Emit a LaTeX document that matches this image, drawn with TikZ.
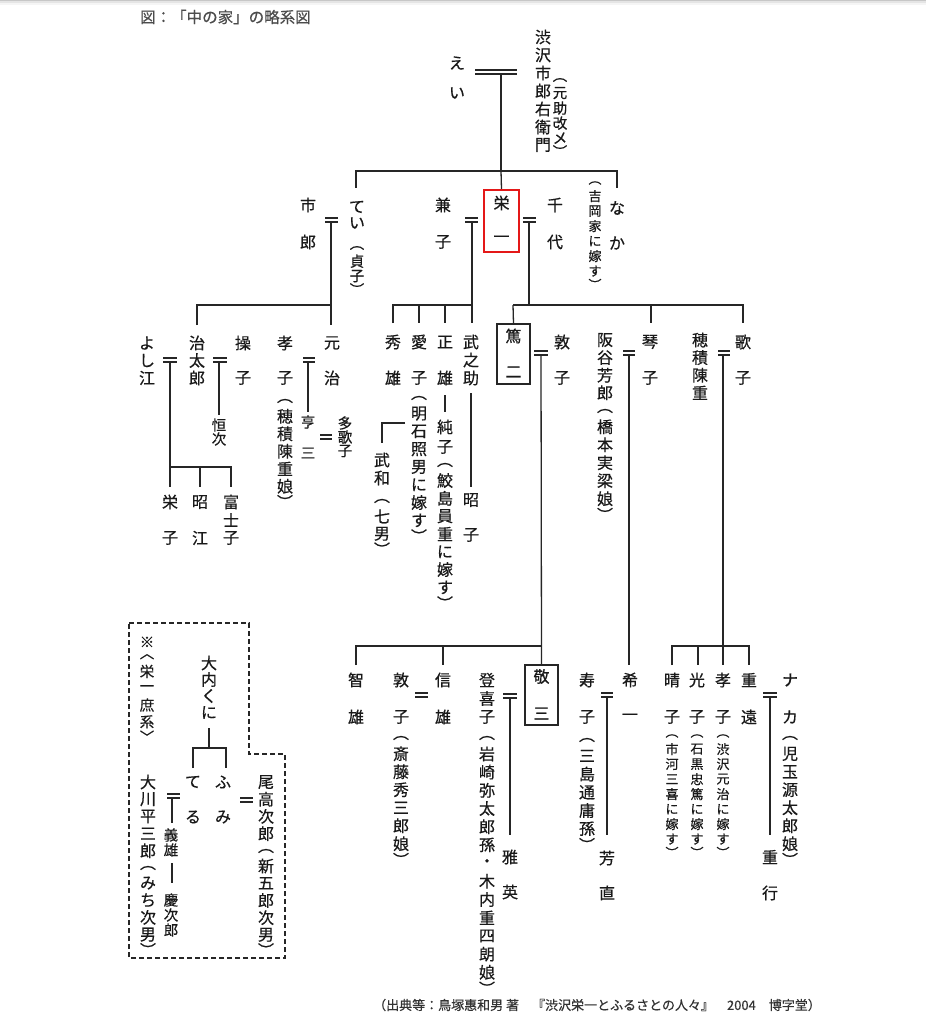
\documentclass[tikz,border=0pt]{standalone}
\usepackage{fontspec}
\setmainfont{Noto Sans CJK JP}[FakeBold=0.5]
\makeatletter
\newdimen\vst@P \newdimen\vst@F \newdimen\vst@d
\newif\ifvst@first
\def\vst@end{\vst@end}
\def\vst@po{︵}\def\vst@pc{︶}\def\vst@ao{︿}\def\vst@ac{﹀}
\def\vst@loop#1{\ifx#1\vst@end\else\vst@slot{#1}\expandafter\vst@loop\fi}
\def\vst@slot#1{\def\vst@c{#1}\vst@d=\vst@P
  \ifx\vst@c\vst@po\vst@d=0.75\vst@P\fi
  \ifx\vst@c\vst@pc\vst@d=0.75\vst@P\fi
  \ifx\vst@c\vst@ao\vst@d=0.75\vst@P\fi
  \ifx\vst@c\vst@ac\vst@d=0.75\vst@P\fi
  \ifvst@first\global\vst@F=0.5\vst@d\global\vst@firstfalse\fi
  \hbox to 0pt{\hss\vbox to\vst@d{\vss\hbox{#1}\vss}\hss}}
\def\vst#1#2{\vst@P=#1pt\global\vst@firsttrue
  \setbox0=\vbox{\offinterlineskip\vst@loop#2\vst@end}%
  \vbox to 0pt{\kern-\vst@F\box0\vss}}
\def\vstc#1#2{\vst@P=#1pt\global\vst@firsttrue
  \setbox0=\vbox{\offinterlineskip\vst@loop#2\vst@end}%
  \vbox to 0pt{\vss\box0\vss}}
\makeatother
\definecolor{boxred}{RGB}{228,24,24}
\newcommand\mar[3]{\draw[ln,line width=1.1pt] (#1,#3-2) -- (#2,#3-2) (#1,#3+2) -- (#2,#3+2);}
\tikzset{
  ln/.style={line width=1.3pt, draw=black!85},
  vt/.style={inner sep=0pt, font=\fontsize{16}{16}\selectfont, text=black!90},
  vtm/.style={inner sep=0pt, font=\fontsize{14.5}{14.5}\selectfont, text=black!90},
  vts/.style={inner sep=0pt, font=\fontsize{13}{13}\selectfont, text=black!90},
  boxed/.style={draw=black!85, line width=1.3pt, inner sep=0pt, font=\fontsize{16}{16}\selectfont, text=black!90},
}
\begin{document}
\begin{tikzpicture}[x=1pt,y=-1pt]
\useasboundingbox (0,0) rectangle (926,1024);
\fill[white] (0,0) rectangle (926,1024);
\fill[black!22] (0,0) rectangle (926,1.5);
\fill[black!10] (0,1.5) rectangle (926,3);
\fill[black!4] (0,3) rectangle (926,5);
\node[anchor=west, inner sep=0pt, font=\fontsize{15.5}{16}\selectfont, text=black!70] (title) at (140,17) {図：「中の家」の略系図};

% ---- generation 1
\node[vt] (ei) at (457,63) {\vst{30}{えい}};
\node[vt] (ichiemon) at (543,37) {\vst{18}{渋沢市郎右衛門}};
\node[vtm] (ichiemonA) at (560,80) {\vst{15}{︵元助改メ︶}};
\mar{475}{517}{72}
\coordinate (m0) at (501,74);
\coordinate (b0) at (501,171);
\draw[ln] (m0) -- (b0);
\draw[ln] (356,188) -- (356,171) -- (617,171) -- (617,188);

% ---- generation 2
\node[vt] (ichiro) at (308,205) {\vst{37}{市郎}};
\node[vt] (tei) at (357,207) {\vst{16}{てい}};
\node[vtm] (teiA) at (357,248) {\vst{15}{︵貞子︶}};
\node[vt] (kaneko) at (443,205) {\vst{37}{兼子}};
\node[boxed, draw=boxred, line width=2pt, minimum width=35pt, minimum height=62pt] (eiichi) at (501.5,221) {\vstc{36}{栄一}};
\draw[ln] (b0) -- (eiichi.north);
\node[vt] (chiyo) at (555,205) {\vst{37}{千代}};
\node[vt] (naka) at (617,208) {\vst{35}{なか}};
\node[vts] (nakaA) at (595,183) {\vst{15}{︵吉岡家に嫁す︶}};

\mar{325}{338}{220}
\mar{465}{478}{220}
\mar{523}{536}{220}
\draw[ln] (331,222) -- (331,325);
\draw[ln] (197,325) -- (197,305) -- (331,305);
\draw[ln] (472,222) -- (472,323);
\draw[ln] (393,323) -- (393,305) -- (472,305);
\draw[ln] (419,305) -- (419,323);
\draw[ln] (445,305) -- (445,323);
\draw[ln] (529,222) -- (529,305);
\draw[ln] (513,305) -- (743,305) -- (743,323);
\draw[ln] (651,305) -- (651,323);

% ---- generation 3 : Ichiro line
\node[vt] (yoshie) at (147,343) {\vst{17.5}{よし江}};
\node[vt] (jitaro) at (197,343) {\vst{17.5}{治太郎}};
\node[vt] (misao) at (243,343) {\vst{35}{操子}};
\node[vt] (takako) at (285,343) {\vst{35}{孝子}};
\node[vt] (takakoA) at (285,401) {\vst{17.5}{︵穂積陳重娘︶}};
\node[vt] (motoji) at (332,343) {\vst{35}{元治}};
\node[vtm] (tsuneji) at (219,425) {\vst{14}{恒次}};
\node[vtm] (kozo) at (308,422) {\vst{31}{亨三}};
\node[vtm] (takako2) at (345,423) {\vst{14}{多歌子}};
\mar{163}{177}{360}
\mar{213}{227}{360}
\mar{303}{315}{360}
\mar{320}{332}{437}
\draw[ln] (170,362) -- (170,487);
\draw[ln] (170,467) -- (231,467) -- (231,487);
\draw[ln] (200,467) -- (200,487);
\draw[ln] (219,362) -- (219,415);
\draw[ln] (308,362) -- (308,412);
\node[vt] (eiko) at (170,502) {\vst{36}{栄子}};
\node[vt] (akie) at (200,502) {\vst{36}{昭江}};
\node[vt] (fujiko) at (231,502) {\vst{18}{富士子}};

% ---- generation 3 : Kaneko line
\node[vt] (hideo) at (393,342) {\vst{36}{秀雄}};
\node[vt] (aiko) at (419,342) {\vst{36}{愛子}};
\node[vt] (aikoA) at (419,398) {\vst{17.8}{︵明石照男に嫁す︶}};
\node[vt] (masao) at (445,342) {\vst{36}{正雄}};
\draw[ln] (445,395) -- (445,412);
\node[vt] (junko) at (445,427) {\vst{20}{純子}};
\node[vt] (junkoA) at (445,465) {\vst{17.8}{︵鮫島員重に嫁す︶}};
\node[vt] (takenosuke) at (471,342) {\vst{18}{武之助}};
\draw[ln] (471,393) -- (471,487);
\node[vt] (akiko) at (471,500) {\vst{35}{昭子}};
\draw[ln] (405,423) -- (382,423) -- (382,443);
\node[vt] (takekazu) at (382,460) {\vst{18}{武和}};
\node[vt] (takekazuA) at (382,501) {\vst{17.5}{︵七男︶}};

% ---- generation 3 : Eiichi line
\node[boxed, minimum width=33pt, minimum height=60pt] (tokuji) at (513.5,354) {\vstc{36}{篤二}};
\draw[ln] (513,305) -- (tokuji.north);
\node[vt] (atsuko) at (562,342) {\vst{36}{敦子}};
\node[vt] (sakatani) at (605,340) {\vst{17.6}{阪谷芳郎}};
\node[vt] (sakataniA) at (605,411) {\vst{18}{︵橋本実梁娘︶}};
\node[vt] (kotoko) at (650,342) {\vst{36}{琴子}};
\node[vt] (hozumi) at (700,340) {\vst{17.6}{穂積陳重}};
\node[vt] (utako) at (743,342) {\vst{36}{歌子}};
\mar{534}{548}{353}
\mar{623}{635}{353}
\mar{718}{730}{353}

% ---- generation 4
\node[boxed, minimum width=33pt, minimum height=60pt] (keizo) at (541.5,695) {\vstc{37}{敬三}};
\draw[ln] (541,355) -- (keizo.north);
\draw[ln] (356,665) -- (356,646) -- (541,646);
\draw[ln] (443,646) -- (443,665);
\node[vt] (tomoo) at (356,680) {\vst{37}{智雄}};
\node[vt] (atsuko2) at (401,680) {\vst{37}{敦子}};
\node[vt] (atsuko2A) at (401,738) {\vst{18}{︵斎藤秀三郎娘︶}};
\node[vt] (nobuo) at (443,680) {\vst{37}{信雄}};
\mar{415}{428}{695}
\node[vt] (tokiko) at (487,680) {\vst{18.5}{登喜子}};
\node[vt] (tokikoA) at (487,738) {\vst{18.2}{︵岩崎弥太郎孫・木内重四朗娘︶}};
\mar{503}{517}{696}
\draw[ln] (510,698) -- (510,835);
\node[vt] (masahide) at (510,857) {\vst{35}{雅英}};

\draw[ln] (629,355) -- (629,665);
\node[vt] (juko) at (587,680) {\vst{37}{寿子}};
\node[vt] (jukoA) at (587,740) {\vst{18.2}{︵三島通庸孫︶}};
\mar{601}{613}{695}
\draw[ln] (607,697) -- (607,835);
\node[vt] (yoshinao) at (607,858) {\vst{35}{芳直}};
\node[vt] (kiichi) at (630,680) {\vst{37}{希一}};

\draw[ln] (723,355) -- (723,665);
\draw[ln] (672,665) -- (672,646) -- (749,646) -- (749,665);
\draw[ln] (698,646) -- (698,665);
\node[vt] (haruko) at (672,680) {\vst{37}{晴子}};
\node[vts] (harukoA) at (672,736) {\vst{15}{︵市河三喜に嫁す︶}};
\node[vt] (mitsuko) at (697,680) {\vst{37}{光子}};
\node[vts] (mitsukoA) at (697,736) {\vst{15}{︵石黒忠篤に嫁す︶}};
\node[vt] (takako3) at (723,680) {\vst{37}{孝子}};
\node[vts] (takako3A) at (723,736) {\vst{15}{︵渋沢元治に嫁す︶}};
\node[vt] (shigeto) at (749,680) {\vst{37}{重遠}};
\mar{763}{777}{695}
\draw[ln] (770,697) -- (770,835);
\node[vt] (shigeyuki) at (770,857) {\vst{36}{重行}};
\node[vt] (naka2) at (790,680) {\vst{37}{ナカ}};
\node[vt] (naka2A) at (790,738) {\vst{18}{︵児玉源太郎娘︶}};

% ---- illegitimate line (dashed box)
\draw[line width=1.2pt, draw=black!85, dash pattern=on 5pt off 3pt] (129,623) -- (249,623) -- (249,754) -- (285,754) -- (285,958) -- (129,958) -- cycle;
\node[vtm] (note) at (147,642) {\vst{16.8}{※︿栄一庶系﹀}};
\node[vt] (ouchi) at (209,663) {\vst{16.5}{大内くに}};
\draw[ln] (209,728) -- (209,748);
\draw[ln] (193,768) -- (193,748) -- (226,748) -- (226,768);
\node[vt] (teru) at (193,782) {\vst{35}{てる}};
\node[vt] (fumi) at (223,782) {\vst{35}{ふみ}};
\mar{240}{253}{800}
\node[vt] (odaka) at (266,782) {\vst{17.2}{尾高次郎}};
\node[vt] (odakaA) at (266,851) {\vst{17.2}{︵新五郎次男︶}};
\node[vt] (okawa) at (148,782) {\vst{17.2}{大川平三郎}};
\node[vt] (okawaA) at (148,868) {\vst{17.2}{︵みち次男︶}};
\mar{167}{180}{796}
\draw[ln] (172,798) -- (172,823);
\node[vtm] (yoshio) at (171,835) {\vst{15}{義雄}};
\draw[ln] (172,863) -- (172,883);
\node[vtm] (keijiro) at (171,900) {\vst{15}{慶次郎}};

% ---- source
\node[anchor=west, inner sep=0pt, font=\fontsize{13}{13}\selectfont, text=black!80] (source) at (373,1005) {（出典等：鳥塚惠和男 著　『渋沢栄一とふるさとの人々』　2004　博字堂）};
\end{tikzpicture}
\end{document}
